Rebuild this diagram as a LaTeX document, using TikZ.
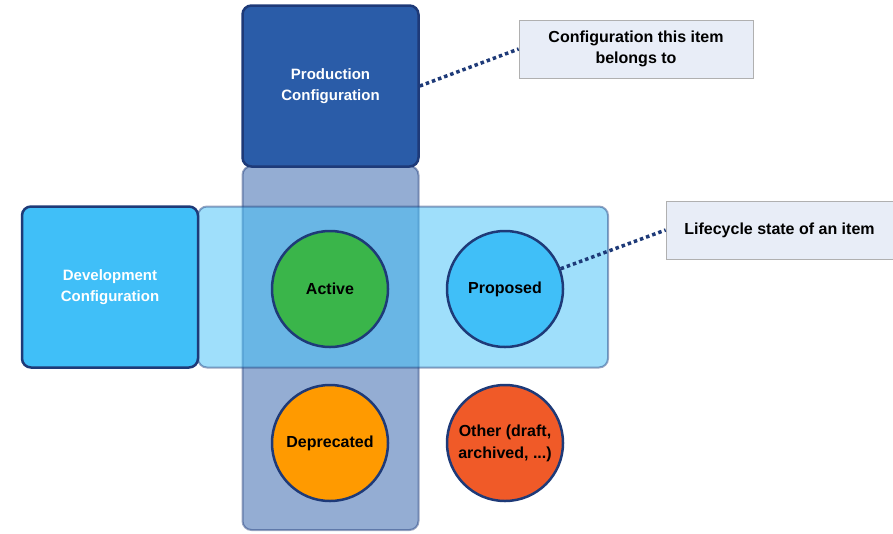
\documentclass[tikz,border=0pt]{standalone}
\usepackage{fontspec}
\setmainfont{Liberation Sans}
\definecolor{prodblue}{HTML}{2A5CA8}
\definecolor{devblue}{HTML}{40BFF8}
\definecolor{navy}{HTML}{1E3A78}
\definecolor{activegreen}{HTML}{3AB54A}
\definecolor{deporange}{HTML}{FF9A00}
\definecolor{otherred}{HTML}{F05A28}
\definecolor{notefill}{HTML}{E8EDF7}
\definecolor{notedraw}{HTML}{B0B0B0}
\begin{document}
\begin{tikzpicture}
  [x=1pt,y=-1pt,
   cfgbox/.style={draw=navy,line width=2.5pt,rounded corners=9pt,text=white,
     align=center,font=\bfseries\fontsize{15}{21}\selectfont,
     minimum width=176pt,minimum height=161pt,inner sep=0pt},
   lane/.style={draw=navy,draw opacity=0.45,line width=2pt,rounded corners=9pt,
     fill opacity=0.5,minimum height=161pt,inner sep=0pt},
   state/.style={draw=navy,shape=circle,line width=2.5pt,minimum size=116pt,
     inner sep=0pt,align=center,font=\bfseries\fontsize{16}{22}\selectfont},
   note/.style={draw=notedraw,fill=notefill,line width=0.8pt,align=center,
     font=\bfseries\fontsize{16}{21}\selectfont,minimum height=58pt,inner sep=0pt},
   pin/.style={navy,line width=3.5pt,dash pattern=on 3.5pt off 3pt},
   node distance=175pt]
  \useasboundingbox (0,0) rectangle (893,533);
  % translucent lanes
  \node[lane,fill=prodblue,minimum width=176pt,minimum height=364pt] (col) at (330.5,348) {};
  \node[lane,fill=devblue,minimum width=410pt] (band) at (403,287) {};
  % configurations
  \node[cfgbox,fill=prodblue] (prod) at (330.5,86) {Production\\Configuration};
  \node[cfgbox,fill=devblue] (dev) at (110,287) {Development\\Configuration};
  % lifecycle states
  \node[state,fill=activegreen] (act) at (330,289) {Active};
  \node[state,fill=devblue,right of=act] (prop) {Proposed\vphantom{A}};
  \node[state,fill=deporange,below of=act,node distance=154pt] (dep) {Deprecated};
  \node[state,fill=otherred,below of=prop,node distance=154pt] (oth) {Other (draft,\\archived, ...)};
  % callouts
  \node[note,minimum width=234pt] (n1) at (636,49) {Configuration this item\\belongs to};
  \node[note,minimum width=227pt] (n2) at (779.5,230) {Lifecycle state of an item};
  \draw[pin] (prod.east) -- (n1.west);
  \draw[pin] (prop.20) -- (n2.west);
\end{tikzpicture}
\end{document}
